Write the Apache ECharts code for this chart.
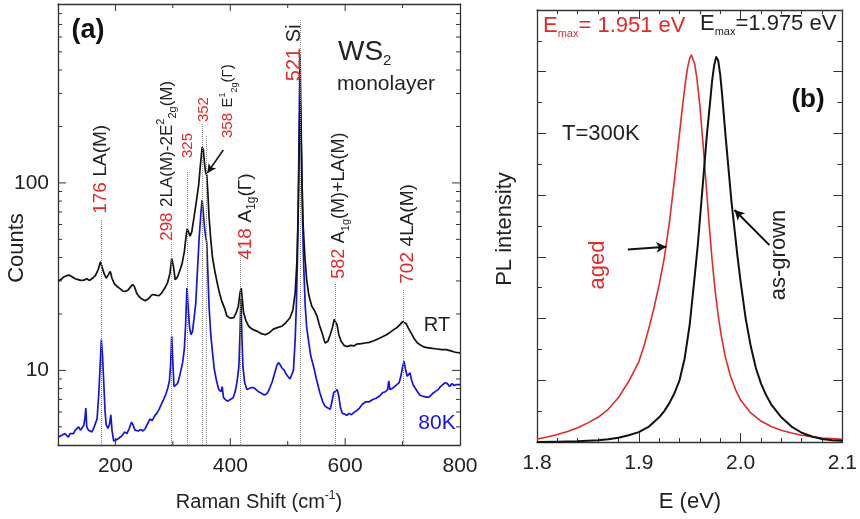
<!DOCTYPE html>
<html>
<head>
<meta charset="utf-8">
<script src="https://cdn.jsdelivr.net/npm/echarts@6/dist/echarts.min.js"></script>
<style>
html, body { margin: 0; padding: 0; background: #fff; }
#chart { width: 860px; height: 519px; }
</style>
</head>
<body>
<div id="chart"></div>
<script>
// ---- (a) Raman spectra of monolayer WS2: [Raman shift (cm-1), counts] ----
const spectrumRT = [
  [100, 30], [105, 30.5], [110, 31.5], [115, 32], [120, 32.2], [125, 31.5], [130, 30.8], [135, 30.5],
  [140, 30.2], [145, 30.3], [150, 30.8], [155, 30.2], [160, 31], [165, 32], [170, 34.5], [174, 38],
  [177, 37.5], [180, 33], [184, 31], [188, 32.5], [191, 33.7], [194, 31], [198, 29], [203, 28],
  [208, 27.3], [213, 26.5], [218, 26.4], [222, 26.8], [226, 27.8], [230, 28.7], [233, 28], [237, 25.8],
  [241, 24.8], [246, 24], [252, 23.5], [258, 24.2], [264, 25.4], [270, 25.2], [276, 25], [281, 26],
  [286, 27.5], [291, 29.5], [295, 33], [298, 39.5], [301, 36], [304, 30.5], [308, 31.5], [312, 34],
  [316, 37], [320, 43], [323, 52], [325, 57], [327, 55], [330, 52], [333, 55], [337, 66], [341, 80],
  [345, 98], [348, 125], [351, 155], [353, 150], [355, 128], [357, 114], [359, 110], [361, 88],
  [363, 66], [366, 50], [369, 40], [373, 34], [377, 29.5], [381, 26], [385, 23.5], [387, 24],
  [390, 21.5], [394, 19.5], [400, 19], [406, 19.1], [410, 20.2], [414, 22], [417, 26], [419, 27.5],
  [421, 24], [423, 20.4], [427, 18.5], [432, 17.2], [438, 16.6], [446, 16.2], [454, 15.7], [461, 15.5],
  [468, 15.9], [475, 16.6], [482, 16.9], [490, 17.2], [497, 18], [504, 19.1], [509, 21], [513, 25.9],
  [516, 38], [518.5, 75], [520, 160], [521.5, 282], [523, 200], [525, 100], [527, 58.6], [530, 40],
  [533, 30.5], [537, 25], [542, 22], [546, 21], [551, 19.5], [555, 17.5], [560, 15.8], [565, 14],
  [570, 14.3], [574, 15.5], [578, 17], [581, 18.7], [583, 19.1], [586, 17.5], [589, 15.5], [593, 14.3],
  [598, 13.6], [603, 13.4], [610, 13.6], [615, 13.5], [620, 13.8], [628, 13.9], [635, 14], [642, 14.1],
  [650, 14.4], [657, 14.7], [665, 15.1], [672, 15.5], [680, 16.1], [686, 16.6], [691, 17], [696, 17.6],
  [700, 18.2], [703, 18.3], [706, 17.8], [710, 16.8], [715, 15.8], [720, 14.8], [726, 14], [732, 13.6],
  [738, 13.3], [745, 13.2], [752, 13.1], [760, 13], [768, 12.9], [776, 12.9], [784, 12.7], [792, 12.5],
  [800, 12.4]
];

const spectrum80K = [
  [100, 4.4], [103, 4.3], [106, 4.5], [109, 4.4], [112, 4.6], [115, 4.5], [118, 4.4], [121, 4.6],
  [124, 4.7], [127, 4.6], [130, 4.8], [133, 4.9], [136, 5.0], [139, 4.8], [142, 4.9], [145, 5.1],
  [147, 5.6], [148.5, 6.3], [150, 5.0], [153, 4.8], [156, 4.7], [159, 4.7], [162, 4.9], [165, 5.2],
  [168, 5.5], [171, 7.5], [173, 10], [175.5, 14.6], [177.5, 12], [180, 8.2], [182, 6], [184, 5.1],
  [187, 4.9], [190, 5.2], [192, 5.8], [194, 4.8], [197, 4.2], [200, 4.15], [204, 4.3], [208, 4.4],
  [212, 4.5], [216, 4.7], [220, 4.6], [224, 4.9], [228, 5.3], [231, 5.1], [234, 4.8], [237, 4.9],
  [240, 4.75], [244, 4.85], [248, 4.75], [252, 4.9], [256, 5.2], [260, 5.5], [264, 5.4], [268, 5.7],
  [272, 5.9], [276, 6.2], [280, 6.6], [284, 7.0], [288, 7.5], [291, 8.0], [294, 8.8], [296, 10.5],
  [298, 15.2], [300, 11], [302, 8.2], [305, 8.3], [308, 8.5], [311, 9.1], [314, 10], [317, 11],
  [320, 13], [322, 17], [324.5, 27.5], [327, 21], [329, 17], [331.5, 15.5], [334, 16], [337, 19],
  [340, 23], [343, 35], [346, 52], [349, 70], [351, 81], [353, 70], [355, 58], [357, 52], [359, 48],
  [361, 33], [363, 22], [366, 15.5], [369, 12.5], [372, 10.2], [376, 8.8], [380, 7.9], [384, 7.7],
  [386, 8.2], [388, 7.2], [391, 7], [395, 6.85], [400, 7], [405, 7.15], [409, 7.8], [412, 8.8],
  [415, 10.5], [417, 16], [418.5, 24], [420, 16], [422, 10.5], [425, 8.6], [429, 7.9], [433, 8.0],
  [437, 8.1], [441, 8.1], [445, 7.9], [449, 7.7], [453, 7.6], [457, 7.45], [461, 7.4], [465, 7.6],
  [469, 8.1], [473, 8.7], [477, 9.6], [481, 10.6], [484, 11], [487, 10.7], [490, 10.3], [494, 10],
  [497, 9.6], [500, 9.3], [504, 9.0], [507, 8.8], [510, 10], [513, 14.6], [515, 22], [517, 40],
  [519, 110], [520.5, 300], [521.5, 480], [523, 250], [524.5, 110], [526, 60], [528, 35], [530.5, 22],
  [533, 17], [536, 14.6], [540, 12], [545, 10.5], [550, 9], [556, 7.6], [561, 6.8], [565, 6.45],
  [570, 6.3], [574, 6.2], [577, 6.8], [580, 7.6], [583, 7.7], [586, 7.9], [589, 7.3], [592, 6.3],
  [595, 5.9], [599, 5.85], [603, 5.75], [607, 5.9], [611, 5.8], [615, 5.96], [620, 6.1], [625, 6.3],
  [630, 6.6], [636, 6.8], [642, 6.8], [648, 7.0], [654, 7.1], [660, 7.3], [665, 7.6], [670, 7.7],
  [674, 7.9], [676, 8.8], [678, 7.9], [682, 8.0], [686, 8.2], [690, 8.4], [694, 8.6], [697, 9.3],
  [700, 10.4], [702.5, 11.2], [705, 10.2], [708, 9.3], [711, 9.5], [713, 9.7], [716, 8.8], [719, 8.3],
  [722, 8.1], [726, 7.7], [730, 7.4], [734, 7.3], [738, 7.25], [742, 7.2], [746, 7.2], [750, 7.4],
  [754, 7.6], [758, 7.75], [762, 7.9], [766, 8.2], [770, 8.4], [774, 8.6], [778, 8.5], [782, 8.2],
  [786, 8.5], [790, 8.3], [794, 8.4], [800, 8.4]
];

// Phonon mode positions (cm-1) with the top of each dotted guide line (counts)
const modePositions = [176, 298, 325, 352, 358, 418, 521, 582, 702];
const modeGuideTop = [63.6, 48, 116, 209, 180, 40.6, 745, 29.3, 27];

// Mode labels: anchor [shift, counts], font size, rich text
const modeLabelAnchor = [[173.9, 68.4], [289.9, 49.1], [326.1, 135.8], [354.8, 211], [396.5, 173.5],
  [426.1, 38.9], [511.3, 349], [589.6, 30.8], [709.6, 29.0]];
const modeLabelSize = [19, 17, 15, 15, 15, 19, 20, 18, 19];
const modeLabelText = [
  '{r|176} {k|LA(M)}',
  '{r|298} {k|2LA(M)-2E}{sup|2}{sub|2g}{k|(M)}',
  '{r|325}',
  '{r|352}',
  '{r|358} {k|E}{sup|1}{sub|2g}{k|(Γ)}',
  '{r|418} {k|A}{sub|1g}{k|(Γ)}',
  '{r|521} {k|Si}',
  '{r|582} {k|A}{sub|1g}{k|(M)+LA(M)}',
  '{r|702} {k|4LA(M)}'
];

// ---- (b) PL spectra at T = 300 K: [E (eV), PL intensity (arb. units)] ----
const plAged = [
  [1.800, 0.05], [1.810, 0.08], [1.820, 0.12], [1.830, 0.17], [1.840, 0.23], [1.850, 0.31],
  [1.860, 0.40], [1.870, 0.53], [1.880, 0.72], [1.890, 0.98], [1.900, 1.30], [1.905, 1.55],
  [1.910, 1.85], [1.915, 2.18], [1.920, 2.55], [1.925, 2.98], [1.930, 3.55], [1.935, 4.25],
  [1.940, 5.00], [1.943, 5.45], [1.946, 5.85], [1.948, 6.07], [1.950, 6.22], [1.9516, 6.27],
  [1.953, 6.25], [1.955, 6.12], [1.957, 5.90], [1.960, 5.45], [1.963, 4.85], [1.966, 4.20],
  [1.969, 3.55], [1.972, 2.95], [1.975, 2.45], [1.978, 2.05], [1.981, 1.72], [1.985, 1.38],
  [1.990, 1.07], [1.995, 0.85], [2.000, 0.68], [2.010, 0.47], [2.020, 0.34], [2.030, 0.25],
  [2.040, 0.19], [2.050, 0.145], [2.060, 0.11], [2.070, 0.085], [2.080, 0.065], [2.090, 0.055],
  [2.100, 0.045]
];
const plAsGrown = [
  [1.800, 0.0], [1.820, 0.005], [1.840, 0.012], [1.860, 0.03], [1.870, 0.045], [1.880, 0.07],
  [1.890, 0.11], [1.900, 0.16], [1.910, 0.25], [1.920, 0.40], [1.925, 0.50], [1.930, 0.63],
  [1.935, 0.79], [1.940, 1.0], [1.945, 1.35], [1.950, 1.9], [1.955, 2.7], [1.958, 3.2],
  [1.961, 3.8], [1.964, 4.4], [1.967, 5.0], [1.970, 5.5], [1.972, 5.85], [1.974, 6.1],
  [1.976, 6.24], [1.978, 6.18], [1.980, 5.95], [1.982, 5.6], [1.985, 5.0], [1.988, 4.45],
  [1.991, 3.9], [1.994, 3.45], [1.997, 3.0], [2.000, 2.6], [2.005, 2.0], [2.010, 1.55],
  [2.015, 1.2], [2.020, 0.95], [2.025, 0.76], [2.030, 0.61], [2.040, 0.40], [2.050, 0.25],
  [2.060, 0.15], [2.070, 0.09], [2.080, 0.05], [2.090, 0.03], [2.100, 0.02]
];

const FF = "'Liberation Sans', Arial, Helvetica, sans-serif";
const INK = '#222';
const RED = '#e32a2a';
const BLUE = '#1414e0';

// Tick marks for the Raman frame (log minor ticks 2..9 per decade)
const countsMin = 4, countsMax = 900, shiftMin = 100, shiftMax = 800;
const frameTicks = [];
for (const d of [1, 10, 100]) {
  for (let m = 1; m <= 9; m++) {
    const v = m * d;
    if (v > countsMin && v < countsMax) {
      const len = (m === 1) ? 8 : 4;
      frameTicks.push([shiftMin, v, 2, len], [shiftMax, v, 3, len]);
    }
  }
}
for (let s = 200; s < shiftMax; s += 100) {
  const len = (s % 200 === 0) ? 7 : 4;
  frameTicks.push([s, countsMin, 0, len], [s, countsMax, 1, len]);
}

function renderTick(params, api) {
  const p = api.coord([api.value(0), api.value(1)]);
  const side = api.value(2), len = api.value(3);
  let x2 = p[0], y2 = p[1];
  if (side === 0) y2 -= len;
  else if (side === 1) y2 += len;
  else if (side === 2) x2 += len;
  else x2 -= len;
  return { type: 'line', shape: { x1: p[0], y1: p[1], x2: x2, y2: y2 },
           style: { stroke: '#333', lineWidth: 1 } };
}

const frameLine = { show: true, onZero: false, lineStyle: { color: '#333', width: 1.3 } };
const tickLabel = { fontSize: 21, color: INK, fontFamily: FF };

const chart = echarts.init(document.getElementById('chart'));

const option = {
  animation: false,
  backgroundColor: '#fff',
  grid: [
    { left: 58, top: 4, width: 402, height: 441 },
    { left: 537, top: 10, width: 306, height: 432 }
  ],
  xAxis: [
    { gridIndex: 0, type: 'value', min: shiftMin, max: shiftMax, interval: 100, position: 'bottom',
      axisLine: frameLine, axisTick: { show: false }, splitLine: { show: false },
      axisLabel: Object.assign({ margin: 11, formatter: v => (v % 200 === 0 ? String(v) : '') }, tickLabel) },
    { gridIndex: 0, type: 'value', min: shiftMin, max: shiftMax, position: 'top',
      axisLine: frameLine, axisTick: { show: false }, splitLine: { show: false }, axisLabel: { show: false } },
    { gridIndex: 1, type: 'value', min: 1.8, max: 2.1, interval: 0.1, position: 'bottom',
      axisLine: frameLine, axisTick: { inside: true, length: 9, lineStyle: { color: '#333' } },
      minorTick: { show: true, splitNumber: 5, length: 4, lineStyle: { color: '#333' } },
      splitLine: { show: false },
      axisLabel: Object.assign({ margin: 11, formatter: v => v.toFixed(1) }, tickLabel) },
    { gridIndex: 1, type: 'value', min: 1.8, max: 2.1, interval: 0.1, position: 'top',
      axisLine: frameLine, axisTick: { inside: true, length: 9, lineStyle: { color: '#333' } },
      minorTick: { show: true, splitNumber: 5, length: 4, lineStyle: { color: '#333' } },
      splitLine: { show: false }, axisLabel: { show: false } }
  ],
  yAxis: [
    { gridIndex: 0, type: 'log', logBase: 10, min: countsMin, max: countsMax, position: 'left',
      axisLine: frameLine, axisTick: { show: false }, splitLine: { show: false }, minorTick: { show: false },
      axisLabel: Object.assign({ margin: 9, formatter: v => {
        const r = Math.round(v);
        return (r === 10 || r === 100) ? String(r) : '';
      } }, tickLabel) },
    { gridIndex: 0, type: 'log', logBase: 10, min: countsMin, max: countsMax, position: 'right',
      axisLine: frameLine, axisTick: { show: false }, splitLine: { show: false }, axisLabel: { show: false } },
    { gridIndex: 1, type: 'value', min: 0, max: 7, interval: 1, position: 'left',
      axisLine: frameLine, axisTick: { inside: true, length: 9, lineStyle: { color: '#333' } },
      minorTick: { show: true, splitNumber: 2, length: 5, lineStyle: { color: '#333' } },
      splitLine: { show: false }, axisLabel: { show: false } },
    { gridIndex: 1, type: 'value', min: 0, max: 7, interval: 1, position: 'right',
      axisLine: frameLine, axisTick: { inside: true, length: 9, lineStyle: { color: '#333' } },
      minorTick: { show: true, splitNumber: 2, length: 5, lineStyle: { color: '#333' } },
      splitLine: { show: false }, axisLabel: { show: false } }
  ],
  series: [
    { name: 'RT', type: 'line', xAxisIndex: 0, yAxisIndex: 0, data: spectrumRT,
      showSymbol: false, lineStyle: { color: '#111', width: 1.7 }, z: 3,
      markLine: { silent: true, symbol: ['none', 'none'], label: { show: false },
        lineStyle: { type: 'dotted', color: '#8a8a8a', width: 1 },
        data: modePositions.map((p, i) => [{ coord: [p, countsMin] }, { coord: [p, modeGuideTop[i]] }]) } },
    { name: '80K', type: 'line', xAxisIndex: 0, yAxisIndex: 0, data: spectrum80K,
      showSymbol: false, lineStyle: { color: BLUE, width: 1.7 }, z: 2,
      markLine: { silent: true, label: { show: false }, symbolSize: [7, 9],
        lineStyle: { type: 'solid', color: '#111', width: 1.5 },
        data: [[{ coord: [387.8, 149.8], symbol: 'none' }, { coord: [360, 113], symbol: 'arrow' }]] } },
    { name: 'frame ticks', type: 'custom', xAxisIndex: 0, yAxisIndex: 0, data: frameTicks,
      renderItem: renderTick, silent: true, z: 5 },
    { name: 'aged', type: 'line', xAxisIndex: 2, yAxisIndex: 2, data: plAged,
      showSymbol: false, lineStyle: { color: RED, width: 1.6, join: 'round' },
      markLine: { silent: true, label: { show: false }, symbolSize: [8, 10],
        lineStyle: { type: 'solid', color: '#111', width: 2 },
        data: [[{ coord: [1.8892, 3.12], symbol: 'none' }, { coord: [1.927, 3.165], symbol: 'arrow' }]] } },
    { name: 'as-grown', type: 'line', xAxisIndex: 2, yAxisIndex: 2, data: plAsGrown,
      showSymbol: false, lineStyle: { color: '#111', width: 2, join: 'round' },
      markLine: { silent: true, label: { show: false }, symbolSize: [8, 10],
        lineStyle: { type: 'solid', color: '#111', width: 2 },
        data: [[{ coord: [2.0283, 3.19], symbol: 'none' }, { coord: [1.994, 3.76], symbol: 'arrow' }]] } }
  ]
};

chart.setOption(option);

// ---- annotations ----
function txt(x, y, text, opts) {
  opts = opts || {};
  return {
    type: 'text', x: x, y: y, rotation: opts.rotation || 0, silent: true, z: 10,
    style: {
      text: text,
      fill: opts.fill || INK,
      font: (opts.weight || 'normal') + ' ' + (opts.size || 20) + 'px ' + FF,
      align: opts.align || 'center',
      verticalAlign: 'middle',
      rich: opts.rich
    }
  };
}

function modeRich(fs) {
  return {
    r: { fill: RED, fontSize: fs, fontFamily: FF, lineHeight: fs + 6 },
    k: { fill: INK, fontSize: fs, fontFamily: FF, lineHeight: fs + 6 },
    sup: { fill: INK, fontSize: Math.round(fs * 0.62), fontFamily: FF, verticalAlign: 'top' },
    sub: { fill: INK, fontSize: Math.round(fs * 0.62), fontFamily: FF, verticalAlign: 'bottom' }
  };
}

const graphics = [];
modeLabelText.forEach((t, i) => {
  const p = chart.convertToPixel({ xAxisIndex: 0, yAxisIndex: 0 }, modeLabelAnchor[i]);
  graphics.push(txt(p[0], p[1], t, { rotation: Math.PI / 2, align: 'left', rich: modeRich(modeLabelSize[i]) }));
});

// panel (a) texts
graphics.push(txt(88, 31, '(a)', { size: 27, weight: 'bold', fill: '#111' }));
graphics.push(txt(338, 52, '{a|WS}{b|2}', { align: 'left', rich: {
  a: { fill: INK, fontSize: 28, fontFamily: FF, lineHeight: 32 },
  b: { fill: INK, fontSize: 15, fontFamily: FF, verticalAlign: 'bottom' } } }));
graphics.push(txt(337, 84, 'monolayer', { size: 21, align: 'left' }));
graphics.push(txt(437, 325, 'RT', { size: 20 }));
graphics.push(txt(437, 423, '80K', { size: 21, fill: BLUE }));
graphics.push(txt(17, 248, 'Counts', { size: 22, rotation: Math.PI / 2 }));
graphics.push(txt(259, 502, '{a|Raman Shift (cm}{s|-1}{a|)}', { rich: {
  a: { fill: INK, fontSize: 20, fontFamily: FF, lineHeight: 24 },
  s: { fill: INK, fontSize: 12, fontFamily: FF, verticalAlign: 'top' } } }));

// panel (b) texts
graphics.push(txt(543, 26, '{a|E}{s|max}{a|= 1.951 eV}', { align: 'left', rich: {
  a: { fill: RED, fontSize: 22, fontFamily: FF, lineHeight: 26 },
  s: { fill: RED, fontSize: 11, fontFamily: FF, verticalAlign: 'bottom' } } }));
graphics.push(txt(700, 24, '{a|E}{s|max}{a|=1.975 eV}', { align: 'left', rich: {
  a: { fill: INK, fontSize: 22, fontFamily: FF, lineHeight: 26 },
  s: { fill: INK, fontSize: 11, fontFamily: FF, verticalAlign: 'bottom' } } }));
graphics.push(txt(808, 100, '(b)', { size: 26, weight: 'bold', fill: '#111' }));
graphics.push(txt(562, 134, 'T=300K', { size: 22, align: 'left' }));
graphics.push(txt(598, 265, 'aged', { size: 22, fill: RED, rotation: Math.PI / 2 }));
graphics.push(txt(779, 255, 'as-grown', { size: 22, rotation: Math.PI / 2 }));
graphics.push(txt(505, 229, 'PL intensity', { size: 22, rotation: Math.PI / 2 }));
graphics.push(txt(690, 502, 'E (eV)', { size: 22 }));

chart.setOption({ graphic: graphics });
</script>
</body>
</html>
